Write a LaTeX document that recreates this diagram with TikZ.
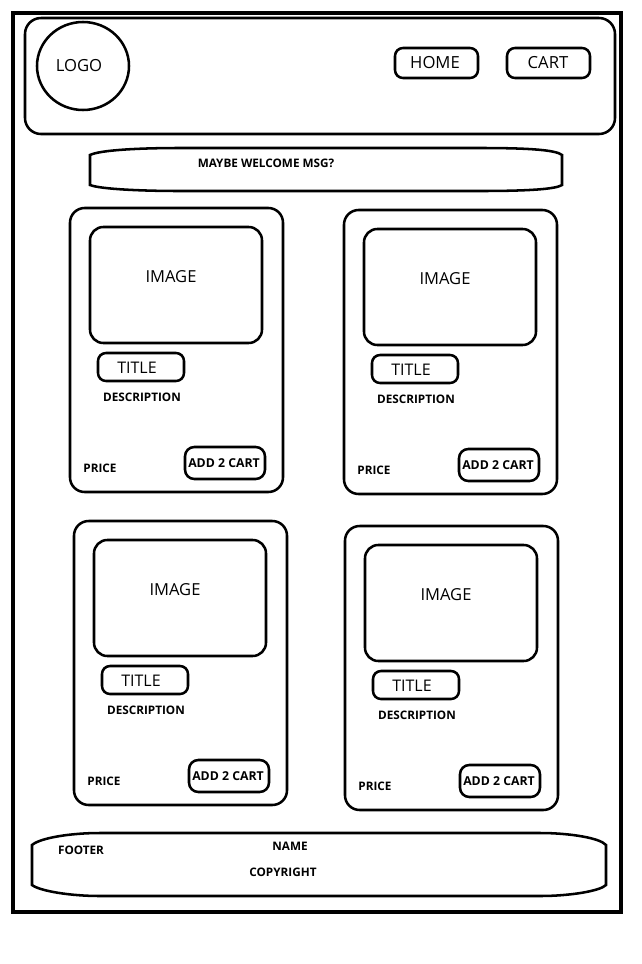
\documentclass[tikz,border=0pt]{standalone}
\usepackage{fontspec}
\setmainfont{Open Sans}
\begin{document}
\begin{tikzpicture}[x=0.75pt,y=-0.75pt,
  shape line/.style={draw=black,line width=1.9pt},
  big/.style={font=\fontsize{12.5}{14}\selectfont,inner sep=0pt},
  mid/.style={font=\fontsize{12.4}{14}\selectfont,inner sep=0pt},
  small/.style={font=\fontsize{8.8}{10}\selectfont\bfseries,inner sep=0pt}]
\useasboundingbox[fill=white] (0,0) rectangle (642,964);
% outer frame
\draw[draw=black,line width=2.4pt] (13,13) rectangle (621,912);
% header
\draw[shape line,rounded corners=12pt] (25,18) rectangle (615,134);
\draw[shape line] (83,66) ellipse [x radius=46,y radius=44];
\node[big] (logo) at (79,66) {LOGO};
\draw[shape line,rounded corners=6pt] (395,48) rectangle (478,78);
\node[big] (home) at (435,63) {HOME};
\draw[shape line,rounded corners=6pt] (507,48) rectangle (590,78);
\node[big] (cart) at (548,63) {CART};
% welcome bar
\draw[shape line] (90,185) -- (90,155) .. controls (100,150) and (140,148) .. (180,148)
  -- (480,148) .. controls (530,148) and (556,150) .. (562,155) -- (562,185)
  .. controls (556,189) and (530,191) .. (480,191) -- (180,191)
  .. controls (140,191) and (100,189) .. (90,185) -- cycle;
\node[small] (welcome) at (266,163) {MAYBE WELCOME MSG?};
% cards
\foreach \dx/\dy/\i in {0/0/1, 274/2/2, 4/313/3, 275/318/4}{
  \begin{scope}[shift={(\dx,\dy)}]
    \draw[shape line,rounded corners=11pt] (70,208) rectangle (283,492);
    \draw[shape line,rounded corners=10pt] (90,227) rectangle (262,343);
    \node[mid] (image\i) at (171,277) {IMAGE};
    \draw[shape line,rounded corners=6pt] (98,353) rectangle (184,381);
    \node[font=\fontsize{12}{14}\selectfont,inner sep=0pt] (title\i) at (137,368) {TITLE};
    \node[small] (desc\i) at (142,397) {DESCRIPTION};
    \node[small] (price\i) at (100,468) {PRICE};
    \draw[shape line,rounded corners=7pt] (185,447) rectangle (265,479);
    \node[small,font=\fontsize{9.2}{10}\selectfont\bfseries] (add\i) at (224,463) {ADD 2 CART};
  \end{scope}
}
% footer
\draw[shape line] (32,885) -- (32,845) .. controls (40,838) and (70,833) .. (100,833)
  -- (540,833) .. controls (570,833) and (600,838) .. (606,845) -- (606,885)
  .. controls (600,891) and (570,896) .. (540,896) -- (100,896)
  .. controls (70,896) and (40,891) .. (32,885) -- cycle;
\node[small] (footer) at (81,850) {FOOTER};
\node[small] (name) at (290,846) {NAME};
\node[small] (copyright) at (283,872) {COPYRIGHT};
\end{tikzpicture}
\end{document}
